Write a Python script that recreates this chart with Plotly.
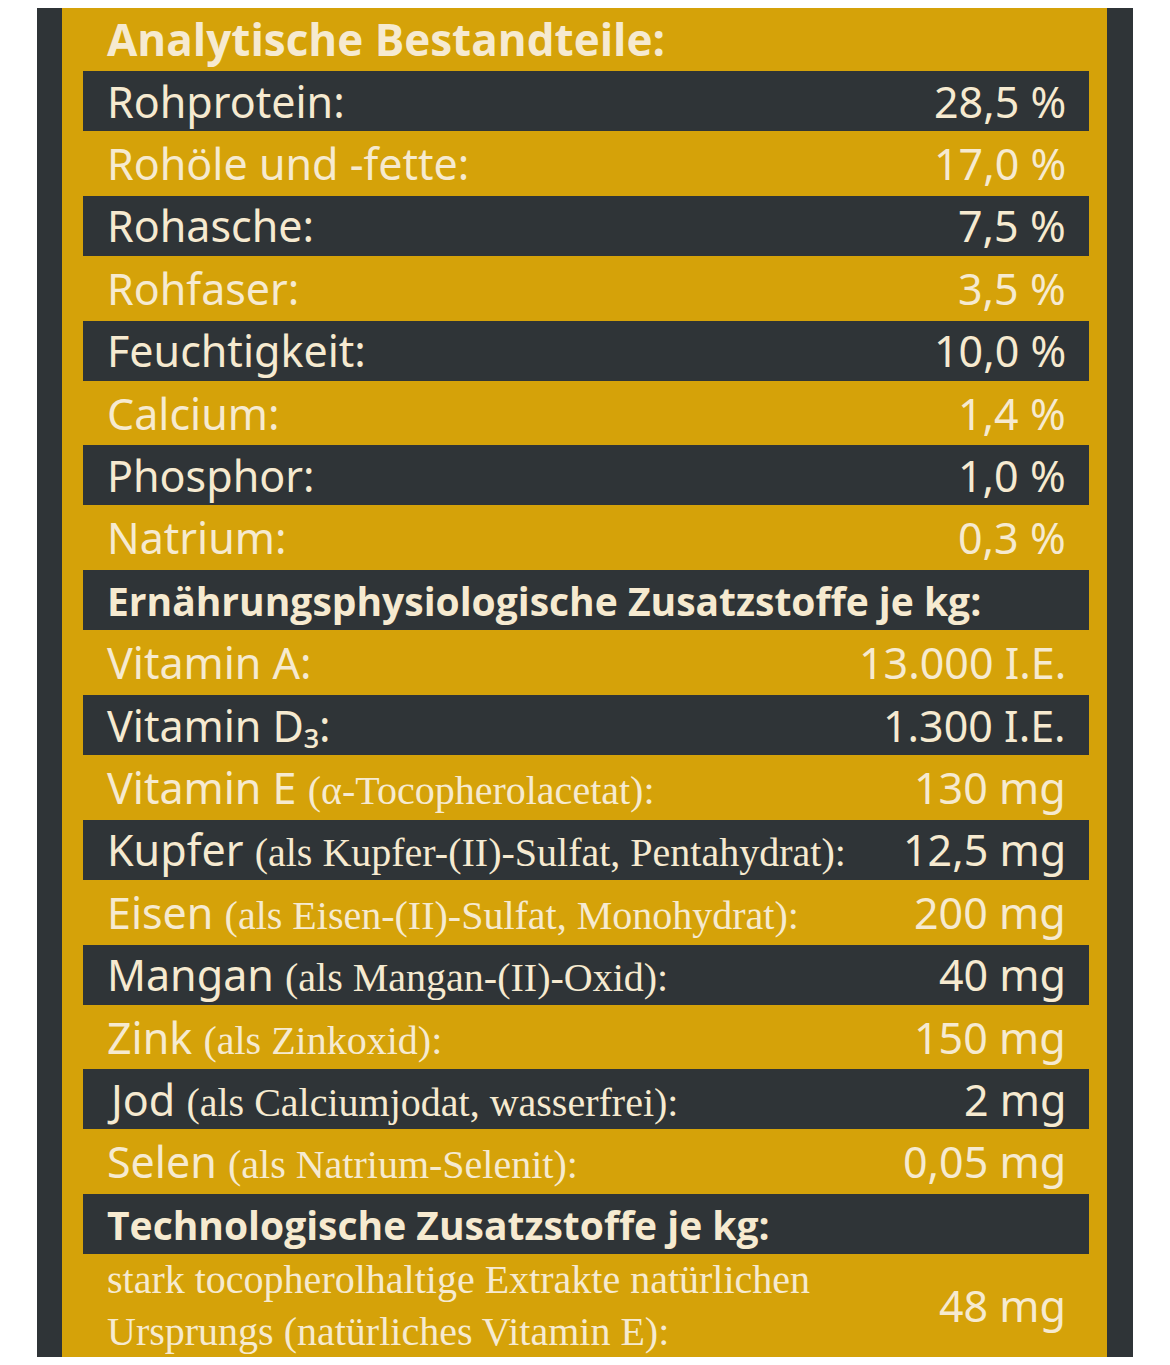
import plotly.graph_objects as go

rows = ["Analytische Bestandteile:",
        "Rohprotein:", "Rohöle und -fette:", "Rohasche:", "Rohfaser:", "Feuchtigkeit:",
        "Calcium:", "Phosphor:", "Natrium:",
        "Ernährungsphysiologische Zusatzstoffe je kg:",
        "Vitamin A:", "Vitamin D₃:", "Vitamin E (α-Tocopherolacetat):",
        "Kupfer (als Kupfer-(II)-Sulfat, Pentahydrat):",
        "Eisen (als Eisen-(II)-Sulfat, Monohydrat):",
        "Mangan (als Mangan-(II)-Oxid):", "Zink (als Zinkoxid):",
        "Jod (als Calciumjodat, wasserfrei):", "Selen (als Natrium-Selenit):",
        "Technologische Zusatzstoffe je kg:",
        "stark tocopherolhaltige Extrakte natürlichen<br>Ursprungs (natürliches Vitamin E):"]
values = ["", "28,5 %", "17,0 %", "7,5 %", "3,5 %", "10,0 %", "1,4 %", "1,0 %", "0,3 %", "",
          "13.000 I.E.", "1.300 I.E.", "130 mg", "12,5 mg", "200 mg", "40 mg", "150 mg",
          "2 mg", "0,05 mg", "", "48 mg"]
headers = [0, 9, 19]
row_pos = [float(i) for i in range(len(rows))]
row_pos[-1] = 20.3

DARK = "#2f3437"
GOLD = "#d5a209"
CREAM = "#f6ead0"
W, H = 1154, 1349

dark_idx = [i for i in range(len(rows)) if i % 2 == 1]
fig = go.Figure(go.Bar(
    orientation="h", y=[row_pos[i] for i in dark_idx], x=[1006] * len(dark_idx), base=75,
    width=0.96, marker=dict(color=DARK, line_width=0), hoverinfo="skip"))

NARROW = "Liberation Sans Narrow"
ann = []
for i, (lab, val) in enumerate(zip(rows, values)):
    y = row_pos[i]
    if i in headers:
        size = 44 if i == 0 else 39
        ann.append(dict(x=97, y=y, text="<b>" + lab + "</b>", xanchor="left", showarrow=False,
                        font=dict(family="Open Sans", size=size, color=CREAM)))
    elif "<br>" in lab:
        ann.append(dict(x=97, y=y, text=lab, xanchor="left", align="left", showarrow=False,
                        font=dict(family=NARROW, size=40, color=CREAM)))
    else:
        if "(" in lab:
            k = lab.index("(")
            txt = lab[:k] + "<span style='font-family:\"" + NARROW + "\";font-size:40px'>" + lab[k:] + "</span>"
        else:
            txt = lab
        ann.append(dict(x=97, y=y, text=txt, xanchor="left", showarrow=False,
                        font=dict(family="Noto Sans", size=43, color=CREAM)))
    if val:
        ann.append(dict(x=1060, y=y, text=val, xanchor="right", showarrow=False,
                        font=dict(family="Noto Sans", size=43, color=CREAM)))

fig.update_layout(
    width=W, height=H, margin=dict(l=0, r=0, t=0, b=0),
    paper_bgcolor="white", plot_bgcolor="white", showlegend=False,
    xaxis=dict(range=[0, W], visible=False, fixedrange=True),
    yaxis=dict(range=[1 + (H - 93) / 62.4, 1 - 93 / 62.4], visible=False, fixedrange=True),
    bargap=0,
    annotations=ann,
    shapes=[
        dict(type="rect", xref="x", yref="paper", x0=29, x1=1125, y0=0, y1=1,
             fillcolor=DARK, line_width=0, layer="below"),
        dict(type="rect", xref="x", yref="paper", x0=54, x1=1099, y0=0, y1=1,
             fillcolor=GOLD, line_width=0, layer="below"),
    ],
)
fig.write_html("out.html")
